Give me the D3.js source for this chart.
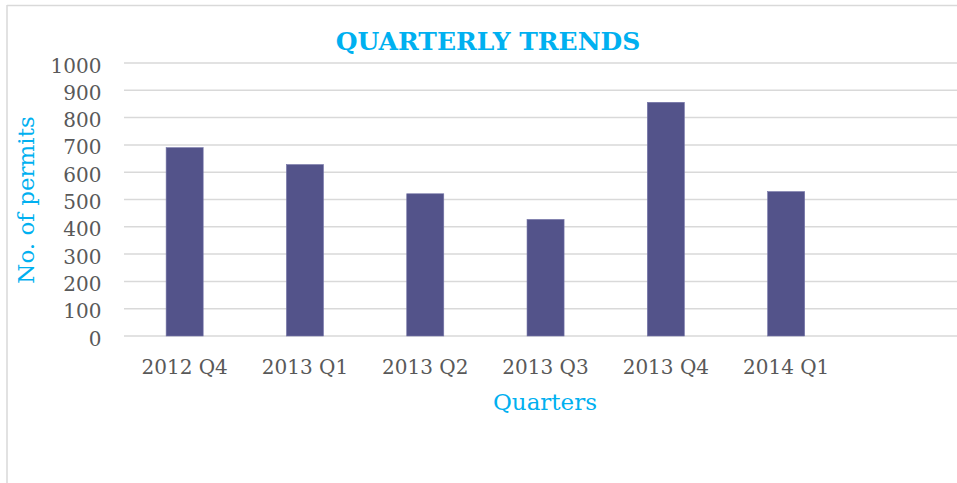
<!DOCTYPE html>
<html>
<head>
<meta charset="utf-8">
<script src="https://cdn.jsdelivr.net/npm/d3@7"></script>
<style>
  html, body { margin: 0; padding: 0; background: #fff; }
  svg { display: block; }
</style>
</head>
<body>
<div id="chart"></div>
<script>
// data
var quarters = ["2012 Q4", "2013 Q1", "2013 Q2", "2013 Q3", "2013 Q4", "2014 Q1"]
var permits = [690, 628, 521, 427, 856, 529]
var y_ticks = [0, 100, 200, 300, 400, 500, 600, 700, 800, 900, 1000]

var W = 957, H = 483
var blue = "#00b0f0", grey_txt = "#595959", grid_col = "#d9d9d9", bar_col = "#53538a"
var serif = "'DejaVu Serif', Georgia, serif"

var svg = d3.select("#chart").append("svg")
    .attr("width", W)
    .attr("height", H)

// frame of the chart box (only top and left show in the crop)
svg.append("line").attr("x1", 7).attr("x2", W).attr("y1", 5.5).attr("y2", 5.5)
    .attr("stroke", grid_col).attr("stroke-width", 1.5)
svg.append("line").attr("x1", 7).attr("x2", 7).attr("y1", 5).attr("y2", H)
    .attr("stroke", grid_col).attr("stroke-width", 1.5)

// 7 slots, the last one is empty
var x = d3.scaleBand()
    .domain(d3.range(7))
    .range([124.5, 966.6])
    .paddingInner(0.692)
    .paddingOuter(0.346)

var y = d3.scaleLinear()
    .domain([0, 1000])
    .range([336, 63])

// gridlines
svg.append("g")
    .selectAll("line")
    .data(y_ticks)
    .join("line")
    .attr("x1", 124)
    .attr("x2", W)
    .attr("y1", d => y(d))
    .attr("y2", d => y(d))
    .attr("stroke", grid_col)
    .attr("stroke-width", 1.5)

// y axis labels, no domain line
var yAxis = d3.axisLeft(y).tickValues(y_ticks).tickFormat(d3.format("d")).tickSize(0).tickPadding(0)
var gy = svg.append("g").attr("transform", "translate(101.5,0)").call(yAxis)
gy.select(".domain").remove()
gy.selectAll("text")
    .attr("font-family", serif)
    .attr("font-size", 20)
    .attr("fill", grey_txt)
    .attr("dy", "0.45em")

// bars
svg.append("g")
    .selectAll("rect")
    .data(permits)
    .join("rect")
    .attr("x", (d, i) => x(i))
    .attr("width", x.bandwidth())
    .attr("y", d => y(d))
    .attr("height", d => y(0) - y(d))
    .attr("fill", bar_col)
    .attr("stroke", "#7676a8")
    .attr("stroke-width", 0.6)

// x axis labels
var xAxis = d3.axisBottom(x).tickValues(d3.range(quarters.length))
    .tickFormat(i => quarters[i]).tickSize(0).tickPadding(0)
var gx = svg.append("g").attr("transform", "translate(0,356)").call(xAxis)
gx.select(".domain").remove()
gx.selectAll("text")
    .attr("font-family", serif)
    .attr("font-size", 20)
    .attr("fill", grey_txt)
    .attr("dy", "0.9em")

// titles
svg.append("text")
    .attr("x", 488).attr("y", 50)
    .attr("text-anchor", "middle")
    .attr("font-family", serif)
    .attr("font-weight", "bold")
    .attr("font-size", 25)
    .attr("fill", blue)
    .text("QUARTERLY TRENDS")

svg.append("text")
    .attr("x", 545).attr("y", 410)
    .attr("text-anchor", "middle")
    .attr("font-family", serif)
    .attr("font-size", 23)
    .attr("fill", blue)
    .text("Quarters")

svg.append("text")
    .attr("transform", "translate(34,200) rotate(-90)")
    .attr("text-anchor", "middle")
    .attr("font-family", serif)
    .attr("font-size", 23)
    .attr("fill", blue)
    .text("No. of permits")
</script>
</body>
</html>
